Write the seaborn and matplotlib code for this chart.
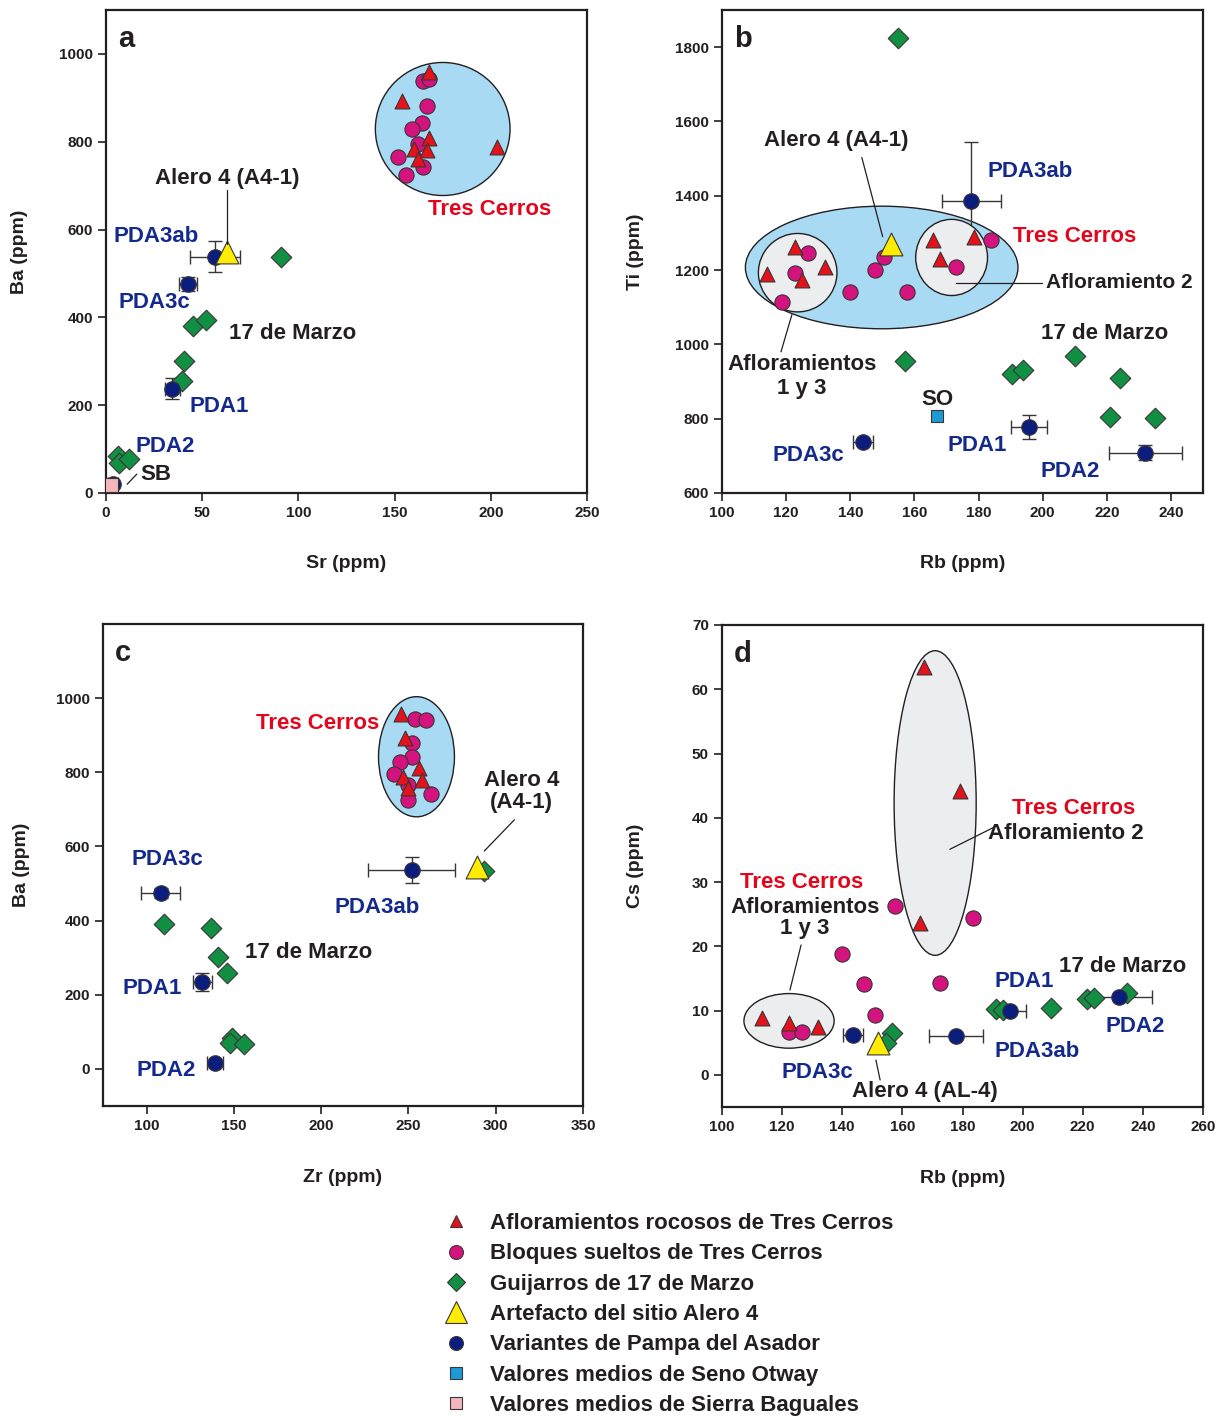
import matplotlib.pyplot as plt
import seaborn as sns
from matplotlib.patches import Ellipse
from matplotlib.lines import Line2D

# ---- panel a: Sr vs Ba ----
a_rock_x = [168, 154, 168, 160, 167, 162, 203]
a_rock_y = [959, 893, 809, 784, 781, 761, 788]
a_block_x = [165, 168, 167, 164, 159, 162, 152, 165, 156]
a_block_y = [938, 943, 881, 843, 829, 795, 765, 743, 724]
a_marzo_x = [91, 45, 52, 40.5, 39.5, 6, 7, 12]
a_marzo_y = [538, 380, 394, 301, 255, 84, 68, 77]
a_alero_x = [63]
a_alero_y = [549]
a_pda_x = [56.7, 42.6, 34.5, 3.7]
a_pda_y = [538, 476, 237, 20]
a_pda_xerr = [13, 4.7, 4, 2.5]
a_pda_yerr = [35, 17, 24, 8]
a_sb_x = [2.5]
a_sb_y = [18]

# ---- panel b: Rb vs Ti ----
b_rock_x = [122.8, 114, 132, 125, 165.7, 168, 178.7]
b_rock_y = [1263, 1190, 1207, 1172, 1282, 1231, 1290]
b_block_x = [126.8, 122.7, 118.7, 140, 147.6, 150.4, 157.8, 173, 184]
b_block_y = [1247, 1193, 1115, 1142, 1201, 1234, 1140, 1209, 1282]
b_marzo_x = [154.8, 157, 190.5, 194, 210, 224, 221, 235]
b_marzo_y = [1824, 956, 921, 932, 969, 910, 805, 802]
b_alero_x = [152.8]
b_alero_y = [1271]
b_pda_x = [177.8, 143.9, 195.8, 232]
b_pda_y = [1387, 737, 778, 708]
b_pda_xerr = [9.2, 3.1, 5.6, 11.4]
b_pda_yerr = [159, 0, 33, 20]
b_so_x = [167.2]
b_so_y = [807]

# ---- panel c: Zr vs Ba ----
c_rock_x = [246, 248, 256, 247, 258, 250]
c_rock_y = [958, 893, 812, 788, 780, 758]
c_block_x = [253.5, 260, 252, 252, 245, 242, 249.5, 263, 249.5]
c_block_y = [945, 942, 880, 842, 829, 796, 767, 742, 726]
c_marzo_x = [110, 136.8, 140.8, 146, 148.8, 147.6, 155.7, 293]
c_marzo_y = [391, 381, 302, 259, 84, 70, 67, 534]
c_alero_x = [289.5]
c_alero_y = [545]
c_pda_x = [251.8, 108, 132, 139]
c_pda_y = [537, 475, 235, 16]
c_pda_xerr = [25, 11, 5.2, 4.6]
c_pda_yerr = [35, 13, 25, 0]

# ---- panel d: Rb vs Cs ----
d_rock_x = [167.2, 179.2, 166, 113.3, 122.3, 131.9]
d_rock_y = [63.5, 44.2, 23.6, 8.9, 8.1, 7.5]
d_block_x = [157.6, 183.5, 140, 147.2, 172.5, 150.9, 122.3, 126.6]
d_block_y = [26.3, 24.4, 18.8, 14.2, 14.3, 9.3, 6.7, 6.7]
d_marzo_x = [156.6, 154.5, 191.2, 193.5, 209.4, 221.4, 223.8, 234.8]
d_marzo_y = [6.5, 5.0, 10.3, 10.1, 10.4, 11.8, 12.0, 12.7]
d_alero_x = [152]
d_alero_y = [5.0]
d_pda_x = [177.8, 143.6, 195.8, 232]
d_pda_y = [6.0, 6.2, 10.0, 12.1]
d_pda_xerr = [9, 3.4, 5.3, 11.2]
d_pda_yerr = [0, 0, 0, 0]

# fields drawn as ellipses: (centre x, centre y, width, height)
a_fields = [(175, 829, 70, 303)]
b_fields = [(149.8, 1207, 85, 330)]
b_subfields = [(123.6, 1193, 24.5, 211), (171.6, 1234, 22.4, 205)]
c_fields = [(254.6, 842, 43.5, 324)]
d_subfields = [(170.9, 42.3, 27.3, 47.4), (122.3, 8.4, 30, 8.5)]

legend_labels = [
    "Afloramientos rocosos de Tres Cerros",
    "Bloques sueltos de Tres Cerros",
    "Guijarros de 17 de Marzo",
    "Artefacto del sitio Alero 4",
    "Variantes de Pampa del Asador",
    "Valores medios de Seno Otway",
    "Valores medios de Sierra Baguales",
]

RED = "#E3121B"
MAGENTA = "#D4137F"
GREEN = "#119043"
YELLOW = "#FFEC00"
NAVY = "#0B1E7D"
SKY = "#1C9AD6"
PINK = "#F3B6BD"
FIELD = "#A9DAF3"
GREY = "#ECEDEF"
EDGE = "#3A3536"
INK = "#231F20"
BLUE_TXT = "#13298C"
RED_TXT = "#E3051B"

sns.set_style("ticks")
plt.rcParams["font.family"] = ["Liberation Sans", "DejaVu Sans"]
plt.rcParams["font.weight"] = "bold"
plt.rcParams["axes.linewidth"] = 1.6
plt.rcParams["axes.edgecolor"] = INK


def add_fields(ax, fields, color, z):
    for cx, cy, w, h in fields:
        ax.add_patch(Ellipse((cx, cy), w, h, facecolor=color, edgecolor=INK, lw=1.0, zorder=z))


def draw_points(ax, rock, block, marzo, alero, pda, extra=None):
    ex = dict(edgecolor=EDGE, linewidth=0.8, legend=False, ax=ax)
    sns.scatterplot(x=pda[0], y=pda[1], marker="o", s=125, color=NAVY, zorder=6, **ex)
    ax.errorbar(pda[0], pda[1], xerr=pda[2], yerr=pda[3], fmt="none", ecolor=EDGE,
                elinewidth=1.0, capsize=5, capthick=1.0, zorder=2)
    sns.scatterplot(x=marzo[0], y=marzo[1], marker="D", s=110, color=GREEN, zorder=5, **ex)
    sns.scatterplot(x=block[0], y=block[1], marker="o", s=120, color=MAGENTA, zorder=4, **ex)
    sns.scatterplot(x=rock[0], y=rock[1], marker="^", s=115, color=RED, zorder=5, **ex)
    sns.scatterplot(x=alero[0], y=alero[1], marker="^", s=270, color=YELLOW, zorder=6, **ex)
    if extra is not None:
        sns.scatterplot(x=extra[0], y=extra[1], marker="s", s=extra[3], color=extra[2], zorder=7, **ex)


def style_axes(ax, letter, xlim, ylim, xticks, yticks, xlabel, ylabel, xl_y, yl_x):
    ax.set_xlim(*xlim)
    ax.set_ylim(*ylim)
    ax.set_xticks(xticks)
    ax.set_yticks(yticks)
    ax.tick_params(direction="out", length=6, width=1.2, labelsize=11, colors=INK)
    for lab in ax.get_xticklabels() + ax.get_yticklabels():
        lab.set_fontweight("bold")
    ax.set_xlabel(xlabel, fontsize=14, fontweight="bold", color=INK, va="center")
    ax.set_ylabel(ylabel, fontsize=14, fontweight="bold", color=INK, va="center")
    ax.xaxis.set_label_coords(0.5, xl_y)
    ax.yaxis.set_label_coords(yl_x, 0.5)
    ax.text(0.025, 0.94, letter, transform=ax.transAxes, fontsize=21, fontweight="bold",
            ha="left", va="center", color=INK)


def lbl(ax, x, y, s, color=INK, ha="center", size=16, **kw):
    ax.text(x, y, s, fontsize=size, fontweight="bold", color=color, ha=ha, va="center",
            zorder=10, **kw)


def line(ax, x0, y0, x1, y1):
    ax.plot([x0, x1], [y0, y1], color=INK, lw=0.9, zorder=8)


fig = plt.figure(figsize=(12.3, 14.16), dpi=100)
ax_a = fig.add_axes([106 / 1230, 1 - 493 / 1416, 481 / 1230, 483 / 1416])
ax_b = fig.add_axes([722 / 1230, 1 - 493 / 1416, 481 / 1230, 483 / 1416])
ax_c = fig.add_axes([103 / 1230, 1 - 1106 / 1416, 480 / 1230, 482 / 1416])
ax_d = fig.add_axes([722 / 1230, 1 - 1107 / 1416, 481 / 1230, 482 / 1416])

# panel a
add_fields(ax_a, a_fields, FIELD, 1)
draw_points(ax_a, (a_rock_x, a_rock_y), (a_block_x, a_block_y), (a_marzo_x, a_marzo_y),
            (a_alero_x, a_alero_y), (a_pda_x, a_pda_y, a_pda_xerr, a_pda_yerr),
            extra=(a_sb_x, a_sb_y, PINK, 90))
style_axes(ax_a, "a", (0, 250), (0, 1100), range(0, 251, 50), range(0, 1001, 200),
           "Sr (ppm)", "Ba (ppm)", -0.145, -0.179)
lbl(ax_a, 62.9, 717, "Alero 4 (A4-1)")
line(ax_a, 62.9, 690, 62.9, 567)
lbl(ax_a, 26, 585, "PDA3ab", BLUE_TXT)
lbl(ax_a, 25, 433, "PDA3c", BLUE_TXT)
lbl(ax_a, 97, 364, "17 de Marzo")
lbl(ax_a, 59, 196, "PDA1", BLUE_TXT)
lbl(ax_a, 31, 107, "PDA2", BLUE_TXT)
lbl(ax_a, 26, 43, "SB")
line(ax_a, 11, 20, 16, 43)
lbl(ax_a, 199.6, 645, "Tres Cerros", RED_TXT)

# panel b
add_fields(ax_b, b_fields, FIELD, 1)
add_fields(ax_b, b_subfields, GREY, 3)
draw_points(ax_b, (b_rock_x, b_rock_y), (b_block_x, b_block_y), (b_marzo_x, b_marzo_y),
            (b_alero_x, b_alero_y), (b_pda_x, b_pda_y, b_pda_xerr, b_pda_yerr),
            extra=(b_so_x, b_so_y, SKY, 70))
style_axes(ax_b, "b", (100, 250), (600, 1900), range(100, 241, 20), range(600, 1801, 200),
           "Rb (ppm)", "Ti (ppm)", -0.145, -0.179)
lbl(ax_b, 135.5, 1549, "Alero 4 (A4-1)")
line(ax_b, 143.6, 1503, 150.1, 1290)
lbl(ax_b, 196.1, 1466, "PDA3ab", BLUE_TXT)
lbl(ax_b, 210.1, 1290, "Tres Cerros", RED_TXT)
lbl(ax_b, 201.0, 1166, "Afloramiento 2", ha="left", size=15)
line(ax_b, 173.1, 1166, 199.9, 1166)
lbl(ax_b, 219.2, 1029, "17 de Marzo")
lbl(ax_b, 124.9, 913, "Afloramientos\n1 y 3", linespacing=1.2)
line(ax_b, 121.8, 1080, 118.4, 980)
lbl(ax_b, 167.2, 853, "SO")
lbl(ax_b, 126.8, 700, "PDA3c", BLUE_TXT)
lbl(ax_b, 179.7, 729, "PDA1", BLUE_TXT)
lbl(ax_b, 208.6, 657, "PDA2", BLUE_TXT)

# panel c
add_fields(ax_c, c_fields, FIELD, 1)
draw_points(ax_c, (c_rock_x, c_rock_y), (c_block_x, c_block_y), (c_marzo_x, c_marzo_y),
            (c_alero_x, c_alero_y), (c_pda_x, c_pda_y, c_pda_xerr, c_pda_yerr))
style_axes(ax_c, "c", (75, 350), (-100, 1200), range(100, 351, 50), range(0, 1001, 200),
           "Zr (ppm)", "Ba (ppm)", -0.149, -0.169)
lbl(ax_c, 198, 931, "Tres Cerros", RED_TXT)
lbl(ax_c, 314.7, 748, "Alero 4\n(A4-1)", linespacing=1.1)
line(ax_c, 310.7, 672, 293.5, 588)
lbl(ax_c, 111.6, 564, "PDA3c", BLUE_TXT)
lbl(ax_c, 232.3, 435, "PDA3ab", BLUE_TXT)
lbl(ax_c, 192.8, 313, "17 de Marzo")
lbl(ax_c, 103, 216, "PDA1", BLUE_TXT)
lbl(ax_c, 111, -3, "PDA2", BLUE_TXT)

# panel d
add_fields(ax_d, d_subfields, GREY, 1)
draw_points(ax_d, (d_rock_x, d_rock_y), (d_block_x, d_block_y), (d_marzo_x, d_marzo_y),
            (d_alero_x, d_alero_y), (d_pda_x, d_pda_y, d_pda_xerr, d_pda_yerr))
style_axes(ax_d, "d", (100, 260), (-5, 70), range(100, 261, 20), range(0, 71, 10),
           "Rb (ppm)", "Cs (ppm)", -0.149, -0.179)
lbl(ax_d, 217.1, 41.4, "Tres Cerros", RED_TXT)
lbl(ax_d, 214.4, 37.6, "Afloramiento 2")
line(ax_d, 175.8, 35.1, 191.2, 38.7)
lbl(ax_d, 126.6, 29.9, "Tres Cerros", RED_TXT)
lbl(ax_d, 127.6, 26.1, "Afloramientos")
lbl(ax_d, 127.6, 22.7, "1 y 3")
line(ax_d, 126.3, 20.2, 122.6, 13.2)
lbl(ax_d, 233.4, 16.8, "17 de Marzo")
lbl(ax_d, 200.5, 14.5, "PDA1", BLUE_TXT)
lbl(ax_d, 237.4, 7.6, "PDA2", BLUE_TXT)
lbl(ax_d, 204.8, 3.7, "PDA3ab", BLUE_TXT)
lbl(ax_d, 131.6, 0.3, "PDA3c", BLUE_TXT)
lbl(ax_d, 167.5, -2.6, "Alero 4 (AL-4)")
line(ax_d, 151.2, 2.3, 152.6, -0.8)

# legend
mk = dict(linestyle="none", markeredgecolor=EDGE, markeredgewidth=0.8)
handles = [
    Line2D([], [], marker="^", markersize=9, markerfacecolor=RED, **mk),
    Line2D([], [], marker="o", markersize=10, markerfacecolor=MAGENTA, **mk),
    Line2D([], [], marker="D", markersize=9, markerfacecolor=GREEN, **mk),
    Line2D([], [], marker="^", markersize=16, markerfacecolor=YELLOW, **mk),
    Line2D([], [], marker="o", markersize=10, markerfacecolor=NAVY, **mk),
    Line2D([], [], marker="s", markersize=8, markerfacecolor=SKY, **mk),
    Line2D([], [], marker="s", markersize=8, markerfacecolor=PINK, **mk),
]
fig.legend(handles, legend_labels, loc="upper left", bbox_to_anchor=(443 / 1230, 1 - 1213 / 1416),
           frameon=False, prop={"size": 16, "weight": "bold"}, labelspacing=0.42,
           handlelength=1.2, handletextpad=0.9, borderpad=0, borderaxespad=0)
for t in fig.legends[0].get_texts():
    t.set_color(INK)

fig.savefig("out.png", dpi=100)
plt.close(fig)
